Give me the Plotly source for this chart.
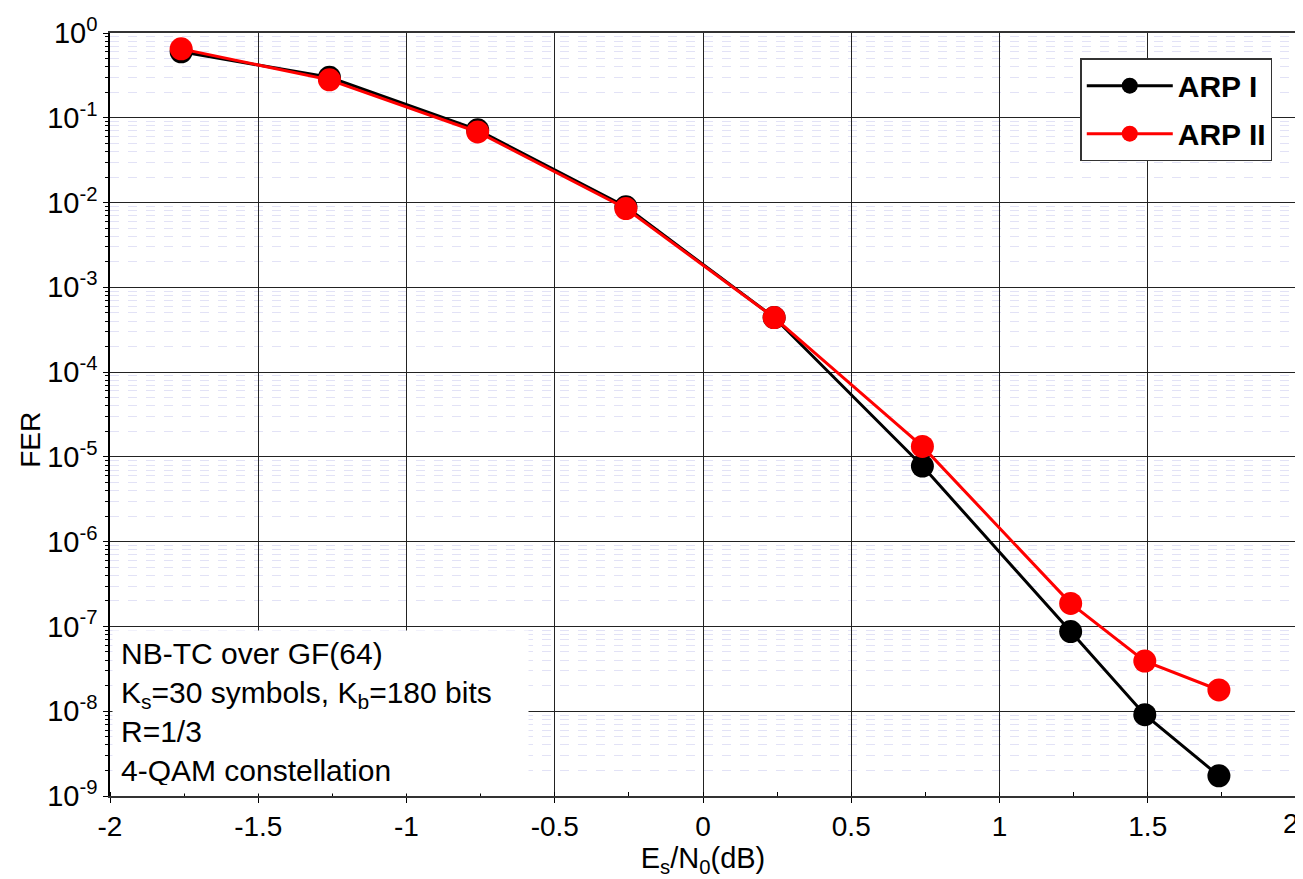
import plotly.graph_objects as go

esn0_db = [-1.76, -1.26, -0.76, -0.26, 0.24, 0.74, 1.24, 1.49, 1.74]
fer_arp1 = [0.60, 0.30, 0.072, 0.0089, 4.4e-4, 7.8e-6, 8.7e-8, 9.1e-9, 1.73e-9]
fer_arp2 = [0.65, 0.28, 0.068, 0.0085, 4.4e-4, 1.33e-5, 1.87e-7, 3.9e-8, 1.78e-8]

x_ticks = [-2, -1.5, -1, -0.5, 0, 0.5, 1, 1.5, 2]
x_ticklabels = ["-2", "-1.5", "-1", "-0.5", "0", "0.5", "1", "1.5", "2"]
y_exponents = [0, -1, -2, -3, -4, -5, -6, -7, -8, -9]
y_ticks = [10.0 ** e for e in y_exponents]
y_ticklabels = ["10<sup>%d</sup>" % e for e in y_exponents]

note_lines = [
    "NB-TC over GF(64)",
    "K<sub>s</sub>=30 symbols, K<sub>b</sub>=180 bits",
    "R=1/3",
    "4-QAM constellation",
]

FONT = "Liberation Sans, Arial, sans-serif"

fig = go.Figure()
fig.add_trace(go.Scatter(x=esn0_db, y=fer_arp1, mode="lines+markers", name="ARP I",
                         legendgroup="a",
                         line=dict(color="black", width=3),
                         marker=dict(color="black", size=23)))
fig.add_trace(go.Scatter(x=esn0_db, y=fer_arp2, mode="lines+markers", name="ARP II",
                         legendgroup="b",
                         line=dict(color="#ff0000", width=3),
                         marker=dict(color="#ff0000", size=23)))

# page body has an 8px offset, so the figure is sized to compensate
fig.update_layout(
    width=1295, height=871,
    margin=dict(l=102, r=5, t=24, b=83),
    paper_bgcolor="white", plot_bgcolor="white",
    font=dict(family=FONT, size=28, color="black"),
    showlegend=True,
    legend=dict(x=0.98, y=0.967, xanchor="right", yanchor="top",
                bgcolor="white", bordercolor="#333333", borderwidth=1.5,
                font=dict(family=FONT, size=30, color="black", weight="bold"),
                itemwidth=86, tracegroupgap=6),
)

fig.update_xaxes(
    range=[-2, 2], tickvals=x_ticks, ticktext=x_ticklabels,
    showline=True, linecolor="#333333", linewidth=1.5, mirror=True,
    ticks="outside", ticklen=5, tickcolor="black",
    showgrid=True, gridcolor="#222222", gridwidth=1, zeroline=False,
    minor=dict(dtick=0.25, ticks="inside", ticklen=4, tickcolor="black", showgrid=False),
    title=dict(text="E<sub>s</sub>/N<sub>0</sub>(dB)", font=dict(size=29), standoff=4),
    tickfont=dict(size=28),
)
fig.update_yaxes(
    type="log", range=[-9, 0], tickvals=y_ticks, ticktext=y_ticklabels,
    showline=True, linecolor="black", linewidth=1.5, mirror=True,
    ticks="outside", ticklen=5, tickcolor="black",
    showgrid=True, gridcolor="#222222", gridwidth=1, zeroline=False,
    minor=dict(dtick="D1", ticks="outside", ticklen=3, tickcolor="black",
               showgrid=True, gridcolor="#e2e2f6", griddash="dash", gridwidth=1),
    tickfont=dict(size=29),
)

# last x tick label sits at the page edge; plotly hides it, so draw it kept inside
fig.add_annotation(
    xref="x", yref="paper", x=x_ticks[-1], y=0, xanchor="right", yanchor="top",
    xshift=5, yshift=-10, text=x_ticklabels[-1], showarrow=False,
    font=dict(family=FONT, size=28, color="black"),
)

# y-axis title (slightly below the vertical centre, as in the reference)
fig.add_annotation(
    xref="paper", yref="paper", x=-0.0673, y=0.467, xanchor="center", yanchor="middle",
    text="FER", textangle=-90, showarrow=False,
    font=dict(family=FONT, size=28, color="black"),
)

fig.add_annotation(
    xref="paper", yref="paper", x=0, y=0, xanchor="left", yanchor="bottom",
    xshift=2, yshift=2, width=399, height=146, align="left", valign="middle",
    text="<br>".join(note_lines), showarrow=False,
    bgcolor="white", borderpad=8,
    font=dict(family=FONT, size=30, color="black"),
)

fig.write_html("out.html")
